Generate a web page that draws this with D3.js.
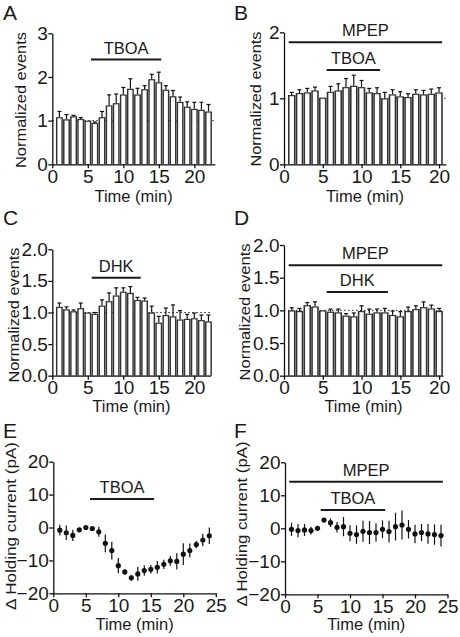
<!DOCTYPE html>
<html><head><meta charset="utf-8">
<script src="https://cdn.jsdelivr.net/npm/d3@7"></script>
<style>
body{margin:0;background:#fff;}
svg text{font-family:"Liberation Sans",Arial,Helvetica,sans-serif;fill:#1a1a1a;}
</style></head><body>
<svg id="chart" width="460" height="637"></svg>
<script>
// ---------- DATA ----------
const timeA = [1,2,3,4,5,6,7,8,9,10,11,12,13,14,15,16,17,18,19,20,21,22];
const eventsA = [1.08,1.03,1.10,1.04,1.00,0.95,1.08,1.35,1.40,1.60,1.73,1.60,1.72,1.95,1.88,1.71,1.56,1.43,1.32,1.27,1.25,1.21];
const errA    = [0.13,0.11,0.02,0.03,0.00,0.02,0.13,0.24,0.21,0.16,0.23,0.14,0.08,0.11,0.23,0.09,0.13,0.11,0.11,0.15,0.17,0.16];

const timeB = [1,2,3,4,5,6,7,8,9,10,11,12,13,14,15,16,17,18,19,20];
const eventsB = [1.05,1.08,1.09,1.12,1.01,1.10,1.12,1.17,1.19,1.17,1.09,1.08,1.00,1.06,1.03,1.02,1.07,1.06,1.07,1.09];
const errB    = [0.04,0.05,0.06,0.05,0.00,0.08,0.10,0.13,0.16,0.10,0.06,0.08,0.09,0.07,0.07,0.05,0.06,0.06,0.07,0.07];

const timeC = [1,2,3,4,5,6,7,8,9,10,11,12,13,14,15,16,17,18,19,20,21,22];
const eventsC = [1.09,1.05,1.02,1.07,1.00,0.98,1.11,1.18,1.27,1.33,1.31,1.20,1.19,1.00,0.84,0.96,0.94,0.89,0.90,0.91,0.88,0.86];
const errC    = [0.06,0.04,0.02,0.08,0.00,0.02,0.09,0.13,0.12,0.06,0.10,0.04,0.04,0.10,0.10,0.11,0.18,0.14,0.07,0.08,0.08,0.10];

const timeD = [1,2,3,4,5,6,7,8,9,10,11,12,13,14,15,16,17,18,19,20];
const eventsD = [1.00,0.99,1.08,1.06,1.00,0.98,0.97,0.92,0.91,0.99,0.95,0.97,0.97,0.93,0.91,0.99,1.02,1.05,1.03,0.99];
const errD    = [0.04,0.04,0.04,0.07,0.00,0.04,0.05,0.03,0.05,0.08,0.07,0.05,0.06,0.06,0.07,0.06,0.05,0.08,0.05,0.04];

const timeE = [1,2,3,4,5,6,7,8,9,10,11,12,13,14,15,16,17,18,19,20,21,22,23,24];
const currentE = [-0.8,-1.6,-2.4,-0.7,0.0,-0.3,-1.3,-4.8,-7.0,-11.6,-13.5,-15.3,-14.1,-13.1,-12.7,-12.1,-11.2,-10.1,-10.3,-8.1,-7.0,-5.2,-3.8,-2.5];
const errE     = [1.6,2.2,1.7,0.5,0.4,0.4,1.5,2.7,2.7,2.3,0.8,0.9,2.1,1.6,1.3,1.9,1.4,1.5,2.5,3.3,2.1,1.1,1.9,2.5];

const timeF = [1,2,3,4,5,6,7,8,9,10,11,12,13,14,15,16,17,18,19,20,21,22,23,24];
const currentF = [-0.3,-0.7,-0.5,-0.7,0.0,2.5,1.7,0.3,0.5,-1.5,-1.9,-0.9,-1.3,-1.3,-0.3,-1.0,0.5,1.0,-0.3,-1.7,-1.3,-1.7,-1.9,-2.2];
const errF     = [2.0,2.0,1.8,1.2,0.4,0.5,1.3,1.6,2.9,2.4,2.8,3.2,3.5,2.8,2.7,3.3,4.2,4.4,2.8,2.8,2.6,3.0,3.1,3.3];

// drug application bars: [label, start(min), end(min), level]
const drugsA = [["TBOA",5.45,15.35,2.40]];
const drugsB = [["MPEP",0.6,20.4,1.85],["TBOA",5.5,12.4,1.43]];
const drugsC = [["DHK",5.55,12.45,1.55]];
const drugsD = [["MPEP",0.6,20.4,1.69],["DHK",5.5,13.4,1.28]];
const drugsE = [["TBOA",5.65,15.5,8.7]];
const drugsF = [["MPEP",0.65,24.3,14.1],["TBOA",5.5,15.4,5.55]];

const panelLetters = ["A","B","C","D","E","F"];
const xTicksBars = [0,5,10,15,20];
const xTicksPts = [0,5,10,15,20,25];
const yTicksA = [0,1,2,3];
const yTicksB = [0,1,2];
const yTicksCD = [0,0.5,1.0,1.5,2.0];
const yTicksEF = [-20,-10,0,10,20];

// ---------- DRAW ----------
const svg = d3.select("#chart");
const FS_TICK = 19, FS_TITLE = 16.5, FS_YTITLE = 14.5, FS_DRUG = 16.5, FS_LETTER = 21;

function axes(g, x, y, c) {
  const ya = d3.axisLeft(y).tickValues(c.yTicks).tickFormat(c.yFmt).tickSize(4).tickSizeOuter(0).tickPadding(0.5);
  const xa = d3.axisBottom(x).tickValues(c.xTicks).tickFormat(d3.format("d")).tickSize(4).tickSizeOuter(0).tickPadding(1);
  const gy = g.append("g").attr("transform", `translate(${c.left},0)`).call(ya);
  const gx = g.append("g").attr("transform", `translate(0,${c.bottom})`).call(xa);
  [gy, gx].forEach(a => {
    a.selectAll("path,line").attr("stroke", "#111").attr("stroke-width", 1.3);
    a.selectAll("text").attr("font-size", FS_TICK).attr("fill", "#1a1a1a")
      .style("font-family", '"Liberation Sans",Arial,sans-serif');
  });
  g.append("text").attr("transform", `translate(${c.yTitleX},${c.yTitleY}) rotate(-90)`)
    .attr("text-anchor", "middle").attr("font-size", FS_YTITLE)
    .attr("textLength", c.yTitleLen).attr("lengthAdjust", "spacingAndGlyphs").text(c.yTitle);
  g.append("text").attr("x", (c.left + c.right) / 2).attr("y", c.xTitleY)
    .attr("text-anchor", "middle").attr("font-size", FS_TITLE).text("Time (min)");
  g.append("text").attr("x", c.letterX).attr("y", c.letterY).attr("font-size", FS_LETTER).text(c.letter);
}

function drugBars(g, x, y, drugs) {
  drugs.forEach(([lab, s, e, lv]) => {
    g.append("line").attr("x1", x(s)).attr("x2", x(e)).attr("y1", y(lv)).attr("y2", y(lv))
      .attr("stroke", "#1a1a1a").attr("stroke-width", 2);
    g.append("text").attr("x", x((s + e) / 2)).attr("y", y(lv) - 6).attr("text-anchor", "middle")
      .attr("font-size", FS_DRUG).text(lab);
  });
}

function barPanel(c, times, vals, errs, drugs) {
  const g = svg.append("g");
  const x = d3.scaleLinear().domain([0, c.xMax]).range([c.left, c.right]);
  const y = d3.scaleLinear().domain(c.yDomain).range([c.bottom, c.top]);
  const step = x(1) - x(0);
  g.append("line").attr("x1", c.left).attr("x2", c.right).attr("y1", y(1)).attr("y2", y(1))
    .attr("stroke", "#222").attr("stroke-width", 1).attr("stroke-dasharray", "1.5,2.5");
  const bw = step * 0.97, iw = step * 0.56;
  times.forEach((t, i) => {
    const v = vals[i];
    g.append("rect").attr("x", x(t) - bw / 2).attr("y", y(v)).attr("width", bw).attr("height", y(0) - y(v))
      .attr("fill", "#333");
    g.append("rect").attr("x", x(t) - iw / 2).attr("y", y(v) + 1.2).attr("width", iw)
      .attr("height", Math.max(0, y(0) - y(v) - 1.2)).attr("fill", "#fff");
    if (errs[i] > 0.005) {
      g.append("line").attr("x1", x(t)).attr("x2", x(t)).attr("y1", y(v)).attr("y2", y(v + errs[i]))
        .attr("stroke", "#111").attr("stroke-width", 1.2);
      g.append("line").attr("x1", x(t) - 2).attr("x2", x(t) + 2).attr("y1", y(v + errs[i])).attr("y2", y(v + errs[i]))
        .attr("stroke", "#111").attr("stroke-width", 1.2);
    }
  });
  axes(g, x, y, c);
  drugBars(g, x, y, drugs);
}

function pointPanel(c, times, vals, errs, drugs) {
  const g = svg.append("g");
  const x = d3.scaleLinear().domain([0, c.xMax]).range([c.left, c.right]);
  const y = d3.scaleLinear().domain(c.yDomain).range([c.bottom, c.top]);
  times.forEach((t, i) => {
    g.append("line").attr("x1", x(t)).attr("x2", x(t)).attr("y1", y(vals[i] - errs[i])).attr("y2", y(vals[i] + errs[i]))
      .attr("stroke", "#111").attr("stroke-width", 1.2);
    g.append("circle").attr("cx", x(t)).attr("cy", y(vals[i])).attr("r", 2.6).attr("fill", "#111");
  });
  axes(g, x, y, c);
  drugBars(g, x, y, drugs);
}

const f1 = d3.format("d"), f2 = d3.format(".1f");

barPanel({letter:"A", letterX:3, letterY:20, left:52.3, right:214.9, top:33.3, bottom:164.3, xMax:22.9,
  yDomain:[0,3], yTicks:yTicksA, yFmt:f1, xTicks:xTicksBars, yTitle:"Normalized events", yTitleX:26, yTitleY:100, yTitleLen:136, xTitleY:202},
  timeA, eventsA, errA, drugsA);
barPanel({letter:"B", letterX:234, letterY:20, left:284, right:446, top:32.3, bottom:164.3, xMax:20.9,
  yDomain:[0,2], yTicks:yTicksB, yFmt:f1, xTicks:xTicksBars, yTitle:"Normalized events", yTitleX:261, yTitleY:99, yTitleLen:135, xTitleY:202},
  timeB, eventsB, errB, drugsB);
barPanel({letter:"C", letterX:3, letterY:225, left:52.3, right:210.6, top:249.3, bottom:375.7, xMax:22.3,
  yDomain:[0,2], yTicks:yTicksCD, yFmt:f2, xTicks:xTicksBars, yTitle:"Normalized events", yTitleX:18.5, yTitleY:315, yTitleLen:135, xTitleY:412},
  timeC, eventsC, errC, drugsC);
barPanel({letter:"D", letterX:234, letterY:225, left:284, right:443, top:245, bottom:375.7, xMax:20.5,
  yDomain:[0,2], yTicks:yTicksCD, yFmt:f2, xTicks:xTicksBars, yTitle:"Normalized events", yTitleX:249.5, yTitleY:312, yTitleLen:137, xTitleY:412},
  timeD, eventsD, errD, drugsD);
pointPanel({letter:"E", letterX:3, letterY:438, left:53.3, right:215.8, top:461.7, bottom:593.3, xMax:25,
  yDomain:[-20,20], yTicks:yTicksEF, yFmt:f1, xTicks:xTicksPts, yTitle:"\u0394 Holding current (pA)", yTitleX:16, yTitleY:526, yTitleLen:168, xTitleY:630},
  timeE, currentE, errE, drugsE);
pointPanel({letter:"F", letterX:234, letterY:438, left:285, right:447.5, top:462.3, bottom:594.3, xMax:25,
  yDomain:[-20,20], yTicks:yTicksEF, yFmt:f1, xTicks:xTicksPts, yTitle:"\u0394 Holding current (pA)", yTitleX:247, yTitleY:524, yTitleLen:165, xTitleY:630},
  timeF, currentF, errF, drugsF);
</script>
</body></html>
